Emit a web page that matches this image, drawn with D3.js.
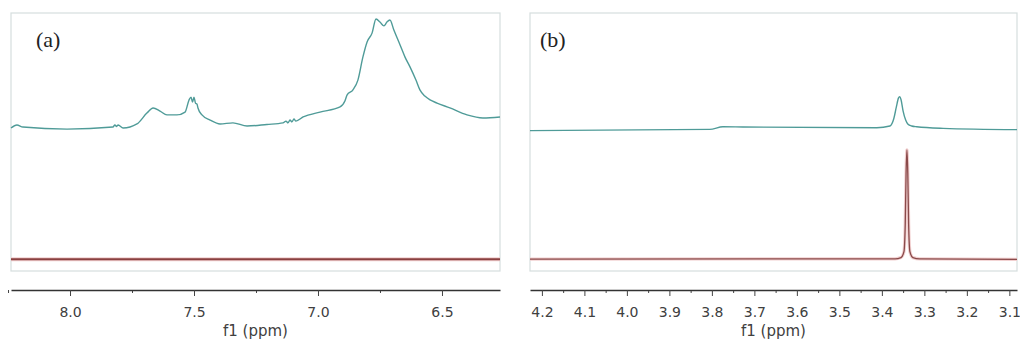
<!DOCTYPE html>
<html>
<head>
<meta charset="utf-8">
<script src="https://cdn.jsdelivr.net/npm/d3@7"></script>
<style>
  body { margin: 0; background: #fff; }
  .tick text { font-family: "DejaVu Sans", sans-serif; font-size: 14px; fill: #404040; }
</style>
</head>
<body>
<div id="chart"></div>
<script>
// panel (a): aromatic region, ppm + intensity (0-100 arbitrary units)
const ppmA = [8.238, 8.214, 8.190, 8.012, 7.827, 7.819, 7.812, 7.806, 7.786, 7.730, 7.690, 7.665, 7.637, 7.609,
  7.569, 7.536, 7.520, 7.512, 7.506, 7.500, 7.494, 7.488, 7.484, 7.468, 7.435, 7.395, 7.343, 7.286, 7.206, 7.141,
  7.129, 7.121, 7.113, 7.105, 7.097, 7.089, 7.060, 6.992, 6.911, 6.891, 6.883, 6.859, 6.839, 6.819, 6.802, 6.782,
  6.766, 6.750, 6.734, 6.722, 6.710, 6.694, 6.669, 6.649, 6.629, 6.605, 6.589, 6.569, 6.548, 6.520, 6.468, 6.399,
  6.335, 6.266];
const cyanA = [55.4, 56.6, 55.8, 55.0, 55.8, 56.6, 56.0, 56.6, 55.4, 57.0, 61.2, 63.2, 62.0, 60.5,
  60.5, 61.6, 66.3, 67.4, 65.5, 67.4, 65.1, 64.7, 63.2, 60.5, 58.5, 57.0, 57.4, 56.2, 56.8, 57.4,
  58.1, 57.4, 58.5, 57.8, 58.9, 58.1, 59.7, 61.6, 63.6, 66.0, 68.2, 70.2, 74.0, 82.9, 88.8, 92.2,
  97.7, 96.5, 95.0, 96.5, 97.3, 93.4, 87.6, 82.9, 79.1, 74.0, 70.2, 67.8, 66.3, 65.1, 63.2, 60.5,
  59.3, 59.7];
const ppmRedA = [8.238, 6.266];
const redA = [4.6, 4.6];

// panel (b): 3.1-4.2 ppm region
const ppmB = [4.228, 3.805, 3.774, 3.727, 3.412, 3.381, 3.372, 3.366, 3.361, 3.358, 3.355, 3.350, 3.344, 3.339,
  3.330, 3.318, 3.256, 3.082];
const cyanB = [54.4, 54.9, 55.9, 55.8, 55.5, 56.2, 59.0, 63.5, 67.0, 67.6, 66.5, 62.0, 58.5, 57.0,
  56.2, 55.9, 55.3, 54.8];
const ppmRedB = [4.228, 3.369, 3.355, 3.348, 3.345, 3.343, 3.341, 3.339, 3.337, 3.334, 3.327, 3.311, 3.082];
const redB = [4.6, 4.7, 5.2, 7.5, 18, 38, 46.9, 38, 18, 7.5, 5.2, 4.7, 4.5];

// tick values
const majorA = [8.0, 7.5, 7.0, 6.5];
const minorA = [8.25, 7.75, 7.25, 6.75];
const majorB = [4.2, 4.1, 4.0, 3.9, 3.8, 3.7, 3.6, 3.5, 3.4, 3.3, 3.2, 3.1];
const minorB = [4.15, 4.05, 3.95, 3.85, 3.75, 3.65, 3.55, 3.45, 3.35, 3.25, 3.15];

const width = 1020, height = 342;
const plotTop = 13, plotH = 258, axisY = 290;

const svg = d3.select("#chart").append("svg")
    .attr("width", width)
    .attr("height", height);

function drawPanel(opt) {
    let g = svg.append("g").attr("transform", `translate(${opt.left}, ${plotTop})`);

    let x = d3.scaleLinear().domain(opt.domain).range([0, opt.w]);
    let y = d3.scaleLinear().domain([0, 100]).range([plotH, 0]);

    // frame
    g.append("rect")
        .attr("x", 0).attr("y", 0)
        .attr("width", opt.w).attr("height", plotH)
        .attr("fill", "none")
        .attr("stroke", "#d6dede")
        .attr("stroke-width", 1.2);

    let line = d3.line()
        .x(d => x(d[0]))
        .y(d => y(d[1]))
        .curve(d3.curveMonotoneX);

    // red trace (lower)
    g.append("path")
        .datum(opt.ppmRed.map((p, i) => [p, opt.red[i]]))
        .attr("fill", "none")
        .attr("stroke", "#f2d0d0")
        .attr("stroke-width", opt.redW + 2)
        .attr("d", line);
    g.append("path")
        .datum(opt.ppmRed.map((p, i) => [p, opt.red[i]]))
        .attr("fill", "none")
        .attr("stroke", opt.redColor)
        .attr("stroke-width", opt.redW)
        .attr("d", line);

    // cyan trace (upper)
    g.append("path")
        .datum(opt.ppm.map((p, i) => [p, opt.cyan[i]]))
        .attr("fill", "none")
        .attr("stroke", "#4f9b98")
        .attr("stroke-width", 1.4)
        .attr("stroke-linejoin", "round")
        .attr("d", line);

    // panel label
    g.append("text")
        .attr("x", opt.labelX)
        .attr("y", 34)
        .style("font-family", "'Liberation Serif', serif")
        .style("font-size", "22px")
        .style("fill", "#222")
        .text(opt.label);

    // x axis
    let ax = svg.append("g").attr("transform", `translate(${opt.left}, ${axisY})`);
    ax.append("g")
        .call(d3.axisBottom(x).tickValues(opt.minor).tickSize(3).tickSizeOuter(0).tickFormat(""))
        .call(s => s.select(".domain").remove())
        .selectAll("line").attr("stroke", "#444");
    ax.append("g")
        .call(d3.axisBottom(x).tickValues(opt.major).tickSize(6).tickSizeOuter(0).tickPadding(11)
            .tickFormat(d3.format(".1f")))
        .call(s => s.select(".domain").attr("stroke", "#333").attr("stroke-width", 1.5))
        .call(s => s.selectAll("line").attr("stroke", "#444"))
        .call(s => s.selectAll("text").attr("font-family", null).attr("font-size", null));

    ax.append("text")
        .attr("x", opt.w / 2 + opt.titleShift)
        .attr("y", 336 - axisY)
        .style("text-anchor", "middle")
        .style("font-family", "'DejaVu Sans', sans-serif")
        .style("font-size", "15px")
        .style("fill", "#404040")
        .text("f1 (ppm)");
}

drawPanel({
    left: 11, w: 489, domain: [8.238, 6.266],
    ppm: ppmA, cyan: cyanA, ppmRed: ppmRedA, red: redA, redW: 2, redColor: "#8a4040",
    major: majorA, minor: minorA, label: "(a)", labelX: 25, titleShift: 0
});

drawPanel({
    left: 530, w: 487, domain: [4.228, 3.082],
    ppm: ppmB, cyan: cyanB, ppmRed: ppmRedB, red: redB, redW: 1.3, redColor: "#8a4a4a",
    major: majorB, minor: minorB, label: "(b)", labelX: 10, titleShift: 0
});
</script>
</body>
</html>
